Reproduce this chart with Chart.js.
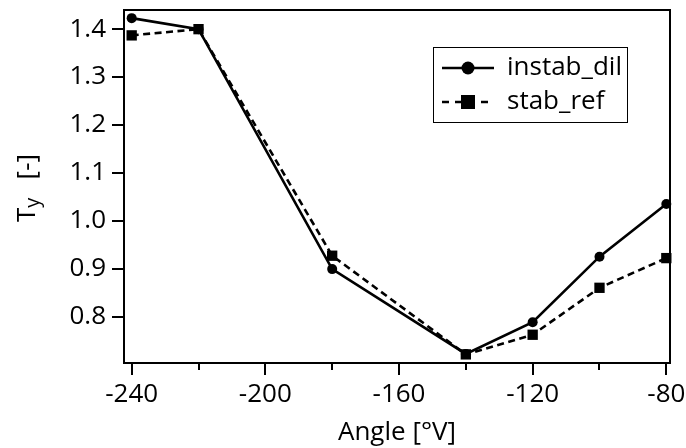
<!DOCTYPE html>
<html>
<head>
<meta charset="utf-8">
<script src="https://cdn.jsdelivr.net/npm/chart.js@4.4.1/dist/chart.umd.min.js"></script>
<style>
  html, body { margin: 0; padding: 0; background: #fff; }
</style>
</head>
<body>
<canvas id="chart" width="686" height="448"></canvas>
<script>
// data
const angles = [-240, -220, -180, -140, -120, -100, -80];
const instabDil = [1.423, 1.400, 0.899, 0.722, 0.788, 0.925, 1.035];
const stabRef = [1.387, 1.400, 0.927, 0.721, 0.762, 0.860, 0.922];
const seriesNames = ['instab_dil', 'stab_ref'];

const xMajorTicks = [-240, -200, -160, -120, -80];
const xMinorTicks = [-220, -180, -140, -100];
const yTicks = [0.8, 0.9, 1.0, 1.1, 1.2, 1.3, 1.4];

const FONT = '"Open Sans", sans-serif';
const FS = 26;

const toPoints = (ys) => angles.map((a, i) => ({ x: a, y: ys[i] }));

// frame, minor ticks, y title with subscript, boxed legend
const extras = {
  id: 'extras',
  afterDraw(chart) {
    const ctx = chart.ctx;
    const area = chart.chartArea;
    const xs = chart.scales.x;

    ctx.save();
    ctx.strokeStyle = '#000';
    ctx.lineWidth = 2;
    ctx.strokeRect(area.left, area.top, area.right - area.left, area.bottom - area.top);

    // minor x ticks
    ctx.beginPath();
    xMinorTicks.forEach(v => {
      const px = Math.round(xs.getPixelForValue(v));
      ctx.moveTo(px, area.bottom);
      ctx.lineTo(px, area.bottom + 7);
    });
    ctx.stroke();

    // y axis title: T_y [-], reading bottom to top
    ctx.fillStyle = '#000';
    ctx.translate(35, 0);
    ctx.rotate(-Math.PI / 2);
    ctx.textBaseline = 'alphabetic';
    ctx.textAlign = 'left';
    ctx.font = FS + 'px ' + FONT;
    ctx.fillText('T', -222, 0);
    const wT = ctx.measureText('T').width;
    ctx.font = '20px ' + FONT;
    ctx.fillText('y', -222 + wT, 4);
    ctx.font = FS + 'px ' + FONT;
    ctx.textAlign = 'right';
    ctx.fillText('[-]', -154, 0);
    ctx.restore();

    // legend box
    ctx.save();
    const box = { x: 433, y: 47, w: 194, h: 75 };
    ctx.fillStyle = '#fff';
    ctx.fillRect(box.x, box.y, box.w, box.h);
    ctx.strokeStyle = '#000';
    ctx.lineWidth = 1;
    ctx.strokeRect(box.x + 0.5, box.y + 0.5, box.w, box.h);
    ctx.font = FS + 'px ' + FONT;
    ctx.textBaseline = 'middle';
    ctx.fillStyle = '#000';
    chart.data.datasets.forEach((ds, i) => {
      const cy = 68 + i * 34;
      ctx.strokeStyle = '#000';
      ctx.lineWidth = 2.6;
      ctx.setLineDash(ds.borderDash ? [7, 6] : []);
      ctx.beginPath();
      ctx.moveTo(442, cy);
      ctx.lineTo(494, cy);
      ctx.stroke();
      ctx.setLineDash([]);
      ctx.beginPath();
      if (ds.pointStyle === 'circle') {
        ctx.arc(468, cy, 6.5, 0, Math.PI * 2);
        ctx.fill();
      } else {
        ctx.fillRect(461, cy - 7, 14, 14);
      }
      ctx.fillText(ds.label, 507, cy);
    });
    ctx.restore();
  }
};

new Chart(document.getElementById('chart'), {
  type: 'line',
  data: {
    datasets: [
      {
        label: seriesNames[0],
        data: toPoints(instabDil),
        borderColor: '#000',
        backgroundColor: '#000',
        borderWidth: 2.6,
        pointStyle: 'circle',
        pointRadius: 5,
        pointBorderWidth: 0,
        tension: 0,
        clip: false
      },
      {
        label: seriesNames[1],
        data: toPoints(stabRef),
        borderColor: '#000',
        backgroundColor: '#000',
        borderWidth: 2.6,
        borderDash: [7, 4.5],
        pointStyle: 'rect',
        pointRadius: 7.3,
        pointBorderWidth: 0,
        tension: 0,
        clip: false
      }
    ]
  },
  options: {
    responsive: false,
    animation: false,
    devicePixelRatio: 1,
    layout: { padding: { top: 10, right: 16, left: 0, bottom: 0 } },
    plugins: { legend: { display: false }, tooltip: { enabled: false } },
    scales: {
      x: {
        type: 'linear',
        min: -242.3,
        max: -78.9,
        afterBuildTicks: (s) => { s.ticks = xMajorTicks.map(v => ({ value: v })); },
        afterFit: (s) => { s.height = 85; s.paddingLeft = 0; s.paddingRight = 0; },
        border: { display: false },
        grid: { drawOnChartArea: false, drawTicks: true, tickLength: 12, color: '#000', lineWidth: 2 },
        ticks: { color: '#000', font: { family: FONT, size: FS }, padding: 4, maxRotation: 0, autoSkip: false },
        title: { display: true, text: 'Angle [°V]', color: '#000', font: { family: FONT, size: FS }, padding: { top: 0, bottom: 0 } }
      },
      y: {
        min: 0.703,
        max: 1.44,
        afterBuildTicks: (s) => { s.ticks = yTicks.map(v => ({ value: v })); },
        afterFit: (s) => { s.width = 124; s.paddingTop = 0; s.paddingBottom = 0; },
        border: { display: false },
        grid: { drawOnChartArea: false, drawTicks: true, tickLength: 12, color: '#000', lineWidth: 2 },
        ticks: { color: '#000', font: { family: FONT, size: FS }, padding: 6, callback: (v) => Number(v).toFixed(1) }
      }
    }
  },
  plugins: [extras]
});
</script>
</body>
</html>
